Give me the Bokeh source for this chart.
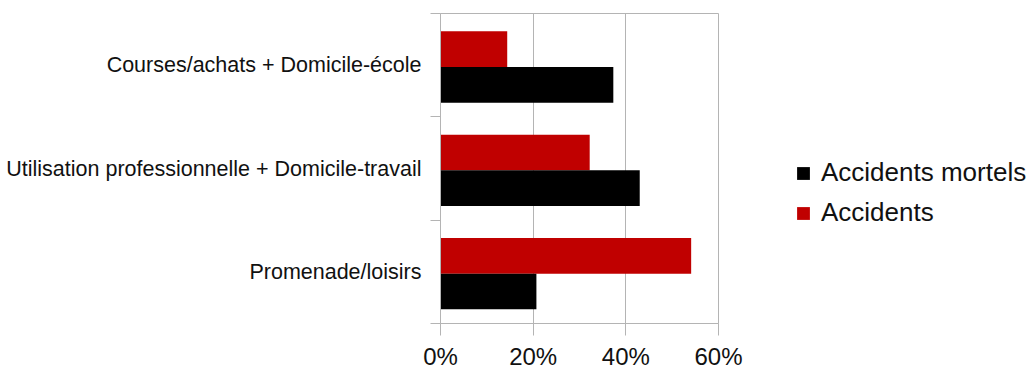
from bokeh.plotting import figure
from bokeh.layouts import row
from bokeh.models import (ColumnDataSource, FixedTicker, PrintfTickFormatter,
                          Legend, LegendItem, Range1d)
from bokeh.transform import dodge
from bokeh.embed import file_html
from bokeh.resources import INLINE

# Trip purposes, listed from top to bottom
categories = [
    "Courses/achats + Domicile-école",
    "Utilisation professionnelle + Domicile-travail",
    "Promenade/loisirs",
]
# Share of each purpose, in percent
accidents = [14.4, 32.2, 54.1]
accidents_mortels = [37.3, 43.0, 20.7]
x_ticks = [0, 20, 40, 60]

RED = "#c00000"
BLACK = "#000000"
GRID = "#b4b4b4"
FONT = "Liberation Sans"
TEXT = "#111111"

n = len(categories)
centers = [n - i - 0.5 for i in range(n)]

src = ColumnDataSource(dict(
    y=centers,
    cat=categories,
    accidents=accidents,
    mortels=accidents_mortels,
))

# Chart panel
p = figure(width=760, height=372, output_backend="svg", toolbar_location=None,
           x_range=Range1d(0, 60), y_range=Range1d(0, n),
           min_border_left=440, min_border_right=42,
           min_border_top=13, min_border_bottom=49,
           background_fill_color="white", border_fill_color="white")

bar_h = 0.345
p.hbar(y=dodge("y", 0.155, range=p.y_range), right="accidents", left=0,
       height=bar_h, source=src, fill_color=RED, line_color=None)
p.hbar(y=dodge("y", -0.19, range=p.y_range), right="mortels", left=0,
       height=bar_h, source=src, fill_color=BLACK, line_color=None)

# Frame and grid
p.outline_line_color = GRID
p.outline_line_width = 1
p.ygrid.visible = False
p.xgrid.grid_line_color = GRID
p.xgrid.grid_line_width = 1

# Value axis
xa = p.xaxis[0]
xa.ticker = FixedTicker(ticks=x_ticks)
xa.formatter = PrintfTickFormatter(format="%d%%")
xa.axis_line_color = GRID
xa.major_tick_line_color = GRID
xa.major_tick_out = 12
xa.major_tick_in = 0
xa.minor_tick_line_color = None
xa.major_label_text_font = FONT
xa.major_label_text_font_size = "24px"
xa.major_label_text_color = TEXT
xa.major_label_standoff = 7

# Category axis: labels at band centres, ticks at band boundaries
ya = p.yaxis[0]
ya.ticker = FixedTicker(ticks=centers, minor_ticks=list(range(n + 1)))
ya.major_label_overrides = {c: lab for c, lab in zip(centers, categories)}
ya.axis_line_color = GRID
ya.major_tick_out = 0
ya.major_tick_in = 0
ya.minor_tick_out = 10
ya.minor_tick_in = 0
ya.minor_tick_line_color = GRID
ya.major_label_text_font = FONT
ya.major_label_text_font_size = "21.5px"
ya.major_label_text_color = TEXT
ya.major_label_standoff = 9

# Legend panel beside the chart; the key renderers hold no drawable point
lg = figure(width=271, height=372, output_backend="svg", toolbar_location=None,
            x_range=Range1d(0, 1), y_range=Range1d(0, 1),
            x_axis_location=None, y_axis_location=None,
            min_border=0, outline_line_color=None,
            background_fill_color="white", border_fill_color="white")
lg.grid.visible = False
nan = float("nan")
keys = ColumnDataSource(dict(y=[nan], right=[nan]))
k_black = lg.hbar(y="y", right="right", left=0, height=0.3, source=keys,
                  fill_color=BLACK, line_color=None)
k_red = lg.hbar(y="y", right="right", left=0, height=0.3, source=keys,
                fill_color=RED, line_color=None)

legend = Legend(items=[
    LegendItem(label="Accidents mortels", renderers=[k_black]),
    LegendItem(label="Accidents", renderers=[k_red]),
], location=(35, 95))
legend.border_line_color = None
legend.background_fill_alpha = 0
legend.padding = 0
legend.margin = 0
legend.spacing = 9
legend.glyph_width = 16
legend.glyph_height = 16
legend.label_standoff = 10
legend.label_text_font = FONT
legend.label_text_font_size = "26px"
legend.label_text_color = TEXT
lg.add_layout(legend)

layout = row(p, lg, spacing=0)
open("out.html", "w").write(file_html(layout, INLINE))
